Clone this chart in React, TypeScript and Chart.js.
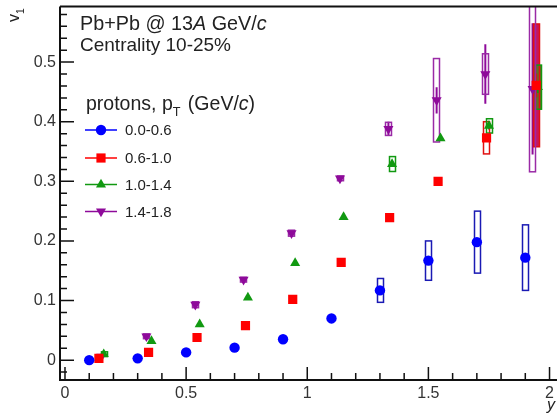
import React, { useEffect, useRef } from 'react';
import { Chart, registerables } from 'chart.js';

Chart.register(...registerables);

// ---------- data ----------
const xTickValues = [0, 0.5, 1, 1.5, 2];
const yTickValues = [0, 0.1, 0.2, 0.3, 0.4, 0.5];
const seriesLabels = ['0.0-0.6', '0.6-1.0', '1.0-1.4', '1.4-1.8'];

// pT 0.0-0.6
const rapA = [0.1, 0.3, 0.5, 0.7, 0.9, 1.1, 1.3, 1.5, 1.7, 1.9];
const v1A = [0.0, 0.003, 0.013, 0.021, 0.035, 0.07, 0.117, 0.167, 0.198, 0.172];
const sysA = [0, 0, 0, 0, 0, 0, 0.02, 0.033, 0.052, 0.055];
const statA = [0, 0, 0, 0, 0, 0, 0.004, 0.005, 0.006, 0.006];

// pT 0.6-1.0
const rapB = [0.14, 0.345, 0.545, 0.745, 0.94, 1.14, 1.34, 1.54, 1.74, 1.945];
const v1B = [0.003, 0.013, 0.038, 0.058, 0.102, 0.164, 0.239, 0.3, 0.373, 0.461];
const sysB = [0, 0, 0, 0, 0, 0, 0, 0, 0.027, 0.103];
const statB = [0, 0, 0, 0, 0, 0, 0, 0, 0.005, 0.02];

// pT 1.0-1.4
const rapC = [0.16, 0.357, 0.556, 0.755, 0.95, 1.15, 1.35, 1.55, 1.75, 1.952];
const v1C = [0.01, 0.032, 0.06, 0.105, 0.163, 0.24, 0.329, 0.372, 0.393, 0.458];
const sysC = [0.004, 0, 0, 0, 0, 0, 0.0125, 0, 0.012, 0.037];
const statC = [0, 0, 0, 0, 0, 0, 0.004, 0.004, 0.006, 0.01];

// pT 1.4-1.8
const rapD = [0.15, 0.336, 0.538, 0.737, 0.935, 1.135, 1.335, 1.534, 1.735, 1.93];
const v1D = [0.006, 0.04, 0.093, 0.135, 0.213, 0.305, 0.388, 0.436, 0.48, 0.455];
const sysD = [0, 0.004, 0.005, 0.004, 0.005, 0.004, 0.011, 0.07, 0.034, 0.139];
const statD = [0, 0.003, 0.003, 0.003, 0.004, 0.004, 0.012, 0.022, 0.05, 0.11];

// ---------- styles ----------
const X_MIN = -0.0206;
const X_MAX = 2.004;
const Y_MIN = -0.0333;
const Y_MAX = 0.5933;
const BOX_HALF_X = 0.013;
const FONT = '"Liberation Sans", Arial, Helvetica, sans-serif';

const styles = [
  { color: '#0000ff', box: '#1a1ab4', pointStyle: 'circle', radius: 5.2, rotation: 0, fillLast: null as string | null },
  { color: '#ff0000', box: '#e01010', pointStyle: 'rect', radius: 6.5, rotation: 0, fillLast: '#c8145a' },
  { color: '#119911', box: '#119911', pointStyle: 'triangle', radius: 5.8, rotation: 0, fillLast: '#6b6a22' },
  { color: '#8e0a9a', box: '#9a2aa6', pointStyle: 'triangle', radius: 5.8, rotation: 180, fillLast: null as string | null },
];

const series = [
  { x: rapA, y: v1A, sys: sysA, stat: statA },
  { x: rapB, y: v1B, sys: sysB, stat: statB },
  { x: rapC, y: v1C, sys: sysC, stat: statC },
  { x: rapD, y: v1D, sys: sysD, stat: statD },
];

type Part = { t: string; italic?: boolean; sub?: boolean };

function drawRich(ctx: CanvasRenderingContext2D, x: number, y: number, parts: Part[], size: number) {
  let cx = x;
  for (const p of parts) {
    const s = p.sub ? size * 0.65 : size;
    ctx.font = `${p.italic ? 'italic ' : ''}${s}px ${FONT}`;
    ctx.fillText(p.t, cx, p.sub ? y + size * 0.3 : y);
    cx += ctx.measureText(p.t).width + (p.sub ? 2 : 0);
  }
}

function drawMarker(ctx: CanvasRenderingContext2D, style: string, r: number, rot: number, x: number, y: number) {
  ctx.beginPath();
  if (style === 'circle') {
    ctx.arc(x, y, r, 0, Math.PI * 2);
  } else if (style === 'rect') {
    const h = Math.SQRT1_2 * r;
    ctx.rect(x - h, y - h, 2 * h, 2 * h);
  } else {
    const sgn = rot === 180 ? -1 : 1;
    ctx.moveTo(x, y - sgn * r);
    ctx.lineTo(x + r * Math.sin(Math.PI / 3), y + sgn * r / 2);
    ctx.lineTo(x - r * Math.sin(Math.PI / 3), y + sgn * r / 2);
    ctx.closePath();
  }
  ctx.fill();
}

const errorPlugin = {
  id: 'errorBoxes',
  beforeDatasetsDraw(chart: any) {
    const ctx = chart.ctx as CanvasRenderingContext2D;
    const xs = chart.scales.x;
    const ys = chart.scales.y;
    ctx.save();
    ctx.beginPath();
    ctx.rect(chart.chartArea.left, chart.chartArea.top, chart.width - chart.chartArea.left, chart.chartArea.bottom - chart.chartArea.top);
    ctx.clip();
    // filled boxes first
    series.forEach((s, si) => {
      const st = styles[si];
      if (!st.fillLast) return;
      const i = s.x.length - 1;
      const l = xs.getPixelForValue(s.x[i] - BOX_HALF_X);
      const r = xs.getPixelForValue(s.x[i] + BOX_HALF_X);
      const t = ys.getPixelForValue(s.y[i] + s.sys[i]);
      const b = ys.getPixelForValue(s.y[i] - s.sys[i]);
      ctx.fillStyle = st.fillLast;
      ctx.fillRect(l, t, r - l, b - t);
    });
    // stat error bars
    series.forEach((s, si) => {
      const st = styles[si];
      ctx.strokeStyle = st.color;
      ctx.lineWidth = 2;
      s.x.forEach((xv, i) => {
        if (!s.stat[i]) return;
        const px = xs.getPixelForValue(xv);
        ctx.beginPath();
        ctx.moveTo(px, ys.getPixelForValue(s.y[i] + s.stat[i]));
        ctx.lineTo(px, ys.getPixelForValue(s.y[i] - s.stat[i]));
        ctx.stroke();
      });
    });
    // systematic boxes
    series.forEach((s, si) => {
      const st = styles[si];
      ctx.strokeStyle = st.box;
      ctx.lineWidth = 1.5;
      s.x.forEach((xv, i) => {
        if (!s.sys[i]) return;
        const l = xs.getPixelForValue(xv - BOX_HALF_X);
        const r = xs.getPixelForValue(xv + BOX_HALF_X);
        const t = ys.getPixelForValue(s.y[i] + s.sys[i]);
        const b = ys.getPixelForValue(s.y[i] - s.sys[i]);
        ctx.strokeRect(Math.round(l) + 0.5, t, Math.round(r - l), b - t);
      });
    });
    ctx.restore();
  },
  afterDraw(chart: any) {
    const ctx = chart.ctx as CanvasRenderingContext2D;
    const xs = chart.scales.x;
    const ys = chart.scales.y;
    const { left, top, bottom } = chart.chartArea;
    const W = chart.width;
    ctx.save();
    // frame
    ctx.strokeStyle = '#111';
    ctx.lineWidth = 2;
    ctx.beginPath();
    ctx.moveTo(left, top);
    ctx.lineTo(W, top);
    ctx.moveTo(left, top);
    ctx.lineTo(left, bottom);
    ctx.lineTo(W, bottom);
    ctx.stroke();
    // ticks
    ctx.lineWidth = 1.5;
    ctx.beginPath();
    for (let k = -2; k <= 22; k++) {
      const v = k / 10;
      if (v < X_MIN || v > 2.02) continue;
      const px = xs.getPixelForValue(v);
      const len = k % 5 === 0 ? 13 : 7;
      ctx.moveTo(px, bottom);
      ctx.lineTo(px, bottom - len);
    }
    for (let k = -2; k <= 30; k++) {
      const v = k / 50;
      if (v < Y_MIN || v > Y_MAX) continue;
      const py = ys.getPixelForValue(v);
      const len = k % 5 === 0 ? 14 : 7;
      ctx.moveTo(left, py);
      ctx.lineTo(left + len, py);
    }
    ctx.stroke();

    // texts
    ctx.fillStyle = '#222';
    ctx.textBaseline = 'alphabetic';
    ctx.textAlign = 'left';
    drawRich(ctx, 80, 30, [{ t: 'Pb+Pb @ 13' }, { t: 'A', italic: true }, { t: ' GeV/' }, { t: 'c', italic: true }], 19.8);
    drawRich(ctx, 80, 51, [{ t: 'Centrality 10-25%' }], 19);
    drawRich(ctx, 86, 110, [{ t: 'protons, p' }, { t: 'T', sub: true }, { t: ' (GeV/' }, { t: 'c', italic: true }, { t: ')' }], 19.5);

    // legend entries
    const rows = [130, 158, 184.5, 211.5];
    seriesLabels.forEach((lab, i) => {
      const st = styles[i];
      const yy = rows[i];
      ctx.strokeStyle = st.color;
      ctx.lineWidth = 1.5;
      ctx.beginPath();
      ctx.moveTo(85, yy);
      ctx.lineTo(117, yy);
      ctx.stroke();
      ctx.fillStyle = st.color;
      drawMarker(ctx, st.pointStyle, st.radius, st.rotation, 101, yy);
      ctx.fillStyle = '#222';
      ctx.textBaseline = 'middle';
      ctx.font = `15px ${FONT}`;
      ctx.fillText(lab, 125, yy + 1);
    });

    // axis titles
    ctx.textBaseline = 'alphabetic';
    ctx.fillStyle = '#222';
    ctx.save();
    ctx.translate(19, 22);
    ctx.rotate(-Math.PI / 2);
    drawRich(ctx, 0, 0, [{ t: 'v' }, { t: '1', sub: true }], 16);
    ctx.restore();
    ctx.textAlign = 'right';
    ctx.font = `italic 16px ${FONT}`;
    ctx.fillText('y', 555, 410);
    ctx.restore();
  },
};

export default function App() {
  const ref = useRef<HTMLCanvasElement | null>(null);
  useEffect(() => {
    if (!ref.current) return;
    const datasets = series.map((s, si) => {
      const st = styles[si];
      return {
        label: seriesLabels[si],
        data: s.x.map((xv, i) => ({ x: xv, y: s.y[i] })),
        showLine: false,
        clip: { left: 0, top: 0, right: 10, bottom: 0 },
        pointStyle: st.pointStyle,
        rotation: st.rotation,
        pointRadius: st.radius,
        pointBackgroundColor: st.color,
        pointBorderColor: st.color,
        pointBorderWidth: 0,
        backgroundColor: st.color,
        borderColor: st.color,
      };
    });
    const tickFont = { family: FONT, size: 16 };
    const chart = new Chart(ref.current, {
      type: 'scatter',
      data: { datasets: datasets as any },
      plugins: [errorPlugin],
      options: {
        animation: false,
        responsive: false,
        devicePixelRatio: 1,
        layout: { padding: { top: 3, right: 0, left: 0, bottom: 0 } },
        plugins: { legend: { display: false }, tooltip: { enabled: false } },
        scales: {
          x: {
            type: 'linear',
            min: X_MIN,
            max: X_MAX,
            afterFit: (s: any) => { s.height = 33; s.paddingRight = 0; s.paddingLeft = 0; },
            afterBuildTicks: (s: any) => { s.ticks = xTickValues.map((v) => ({ value: v })); },
            grid: { display: false, drawTicks: false },
            border: { display: false },
            ticks: { padding: 4, color: '#333', font: tickFont, maxRotation: 0, autoSkip: false, callback: (v: any) => String(v) },
          },
          y: {
            type: 'linear',
            min: Y_MIN,
            max: Y_MAX,
            afterFit: (s: any) => { s.width = 60; s.paddingTop = 0; s.paddingBottom = 0; },
            afterBuildTicks: (s: any) => { s.ticks = yTickValues.map((v) => ({ value: v })); },
            grid: { display: false, drawTicks: false },
            border: { display: false },
            ticks: { padding: 4, color: '#333', font: tickFont, autoSkip: false, callback: (v: any) => String(v) },
          },
        },
      } as any,
    });
    return () => chart.destroy();
  }, []);
  return (
    <div style={{ position: 'fixed', left: 0, top: 0, width: 557, height: 413, background: '#fff' }}>
      <canvas ref={ref} width={557} height={413} style={{ width: 557, height: 413 }} />
    </div>
  );
}
